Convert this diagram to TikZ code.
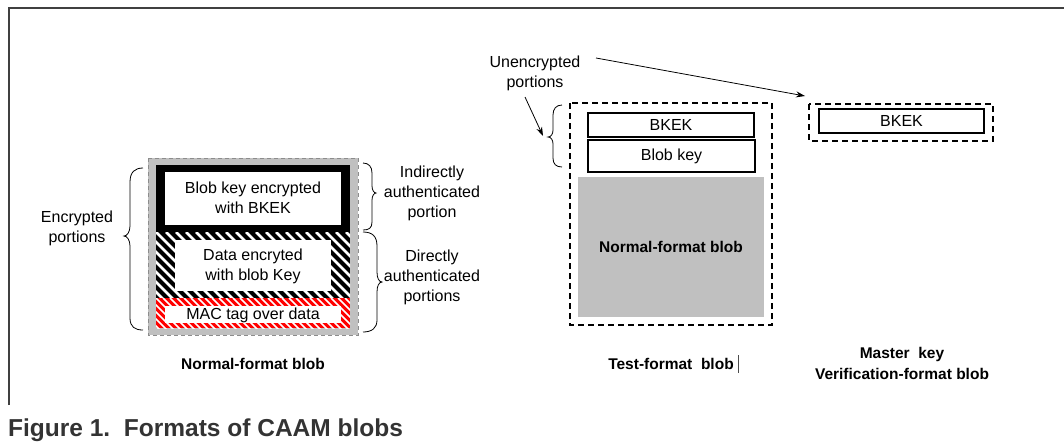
\documentclass[tikz,border=0pt]{standalone}
\usepackage{fontspec}
\setmainfont{Liberation Sans}
\usetikzlibrary{arrows.meta}
\definecolor{boxgray}{HTML}{C0C0C0}
\definecolor{dashgray}{HTML}{8C8C8C}
\definecolor{framegray}{HTML}{404040}
\definecolor{captgray}{HTML}{333333}
\begin{document}
\begin{tikzpicture}[x=1pt,y=-1pt,
  txt/.style={font=\fontsize{16}{20}\selectfont, align=center, inner sep=0pt, text=black},
  lbl/.style={font=\bfseries\fontsize{15.5}{21}\selectfont, align=center, inner sep=0pt},
  keybox/.style={draw, line width=1.1pt, inner sep=0pt, font=\fontsize{16}{20}\selectfont},
  dashbox/.style={draw, line width=1.2pt, dash pattern=on 6pt off 4pt},
  wbrace/.style={line width=0.8pt},
  arr/.style={line width=0.8pt, -{Stealth[length=9pt,width=6pt]}}
]
\useasboundingbox (0,0) rectangle (1064,442);
% frame
\draw[framegray, line width=1.4pt] (9,405) -- (9,8) -- (1064,8);

% ---------- Normal-format blob ----------
\fill[boxgray] (148,158) rectangle (358,335);
\draw[dashgray, line width=1pt, dash pattern=on 4pt off 3pt] (148,158) rectangle (358,335);
% top black section
\fill[black] (156,165) rectangle (350,232);
\fill[white] (165,172) rectangle (341,225);
% hatched section
\begin{scope}
  \clip (156,232) rectangle (350,298);
  \fill[black] (156,232) rectangle (350,298);
  \foreach \i in {-80,-70,...,200} \draw[white, line width=2.6pt] (156+\i,232) -- ++(80,80);
\end{scope}
\fill[white] (175,240) rectangle (331,291);
% red section
\begin{scope}
  \clip (156,298) rectangle (350,328);
  \fill[red] (156,298) rectangle (350,328);
  \foreach \i in {-35,-28,...,200} \draw[white, line width=1.5pt] (156+\i,298) -- ++(35,35);
\end{scope}
\fill[white] (165,306) rectangle (341,323);

\node[txt] (bkeyenc) at (253,198) {Blob key encrypted\\with BKEK};
\node[txt] (dataenc) at (253,266) {Data encryted\\with blob Key};
\node[txt] (mac) at (253,315) {MAC tag over data};

% braces
\draw[wbrace] (143,168) .. controls (135,168) and (130,172) .. (130,182) -- (130,226)
  .. controls (130,232) and (127,236) .. (124,236)
  .. controls (127,236) and (130,240) .. (130,246) -- (130,318)
  .. controls (130,327) and (135,330) .. (143,330);
\node[txt] (encp) at (77,228) {Encrypted\\portions};

\draw[wbrace] (363,163) .. controls (369,163) and (372,167) .. (372,173) -- (372,186)
  .. controls (372,190) and (374,193) .. (376,193)
  .. controls (374,193) and (372,196) .. (372,200) -- (372,222)
  .. controls (372,228) and (369,230) .. (363,230);
\node[txt] (indir) at (432,193) {Indirectly\\authenticated\\portion};

\draw[wbrace] (363,232) .. controls (372,232) and (377,236) .. (377,246) -- (377,272)
  .. controls (377,278) and (379,282) .. (382,282)
  .. controls (379,282) and (377,286) .. (377,292) -- (377,320)
  .. controls (377,328) and (372,332) .. (363,332);
\node[txt] (dir) at (432,277) {Directly\\authenticated\\portions};

\node[lbl] (normlbl) at (253,364) {Normal-format blob};

% ---------- Test-format blob ----------
\draw[dashbox] (570,103) rectangle (772,325);
\node[keybox, minimum width=166pt, minimum height=24pt] (tbkek) at (671,125) {BKEK};
\node[keybox, minimum width=167pt, minimum height=32pt] (tblob) at (671.5,156) {Blob key};
\node[fill=boxgray, minimum width=186pt, minimum height=140pt, inner sep=0pt,
  font=\bfseries\fontsize{15.5}{20}\selectfont] (tnorm) at (671,247) {Normal-format blob};
\draw[wbrace] (562,105) .. controls (556,105) and (553,109) .. (553,115) -- (553,130)
  .. controls (553,134) and (551,137) .. (548,137)
  .. controls (551,137) and (553,140) .. (553,144) -- (553,158)
  .. controls (553,164) and (556,167) .. (562,167);
\coordinate (tbrace) at (543,136);
\node[txt] (unenc) at (535,73) {Unencrypted\\portions};
\coordinate (unencA) at (525,97);
\coordinate (unencB) at (596,58);
\node[lbl] (testlbl) at (671,364) {Test-format\ \ blob};
\draw[line width=0.5pt, black!70] (738,355) -- (738,373);

% ---------- Master key verification blob ----------
\draw[dashbox] (809,104) rectangle (993,141);
\node[keybox, minimum width=165pt, minimum height=24pt] (mbkek) at (901.5,121) {BKEK};
\coordinate (mcorner) at (805,96);
\node[lbl] (mlbl) at (902,363) {Master\ \ key\\Verification-format blob};

% arrows
\draw[arr] (unencA) -- (tbrace);
\draw[arr] (unencB) -- (mcorner);

% caption
\node[anchor=west, inner sep=0pt, text=captgray, font=\bfseries\fontsize{24.5}{28}\selectfont] (cap) at (8,430) {Figure 1.\ \ Formats of CAAM blobs};
\end{tikzpicture}
\end{document}
